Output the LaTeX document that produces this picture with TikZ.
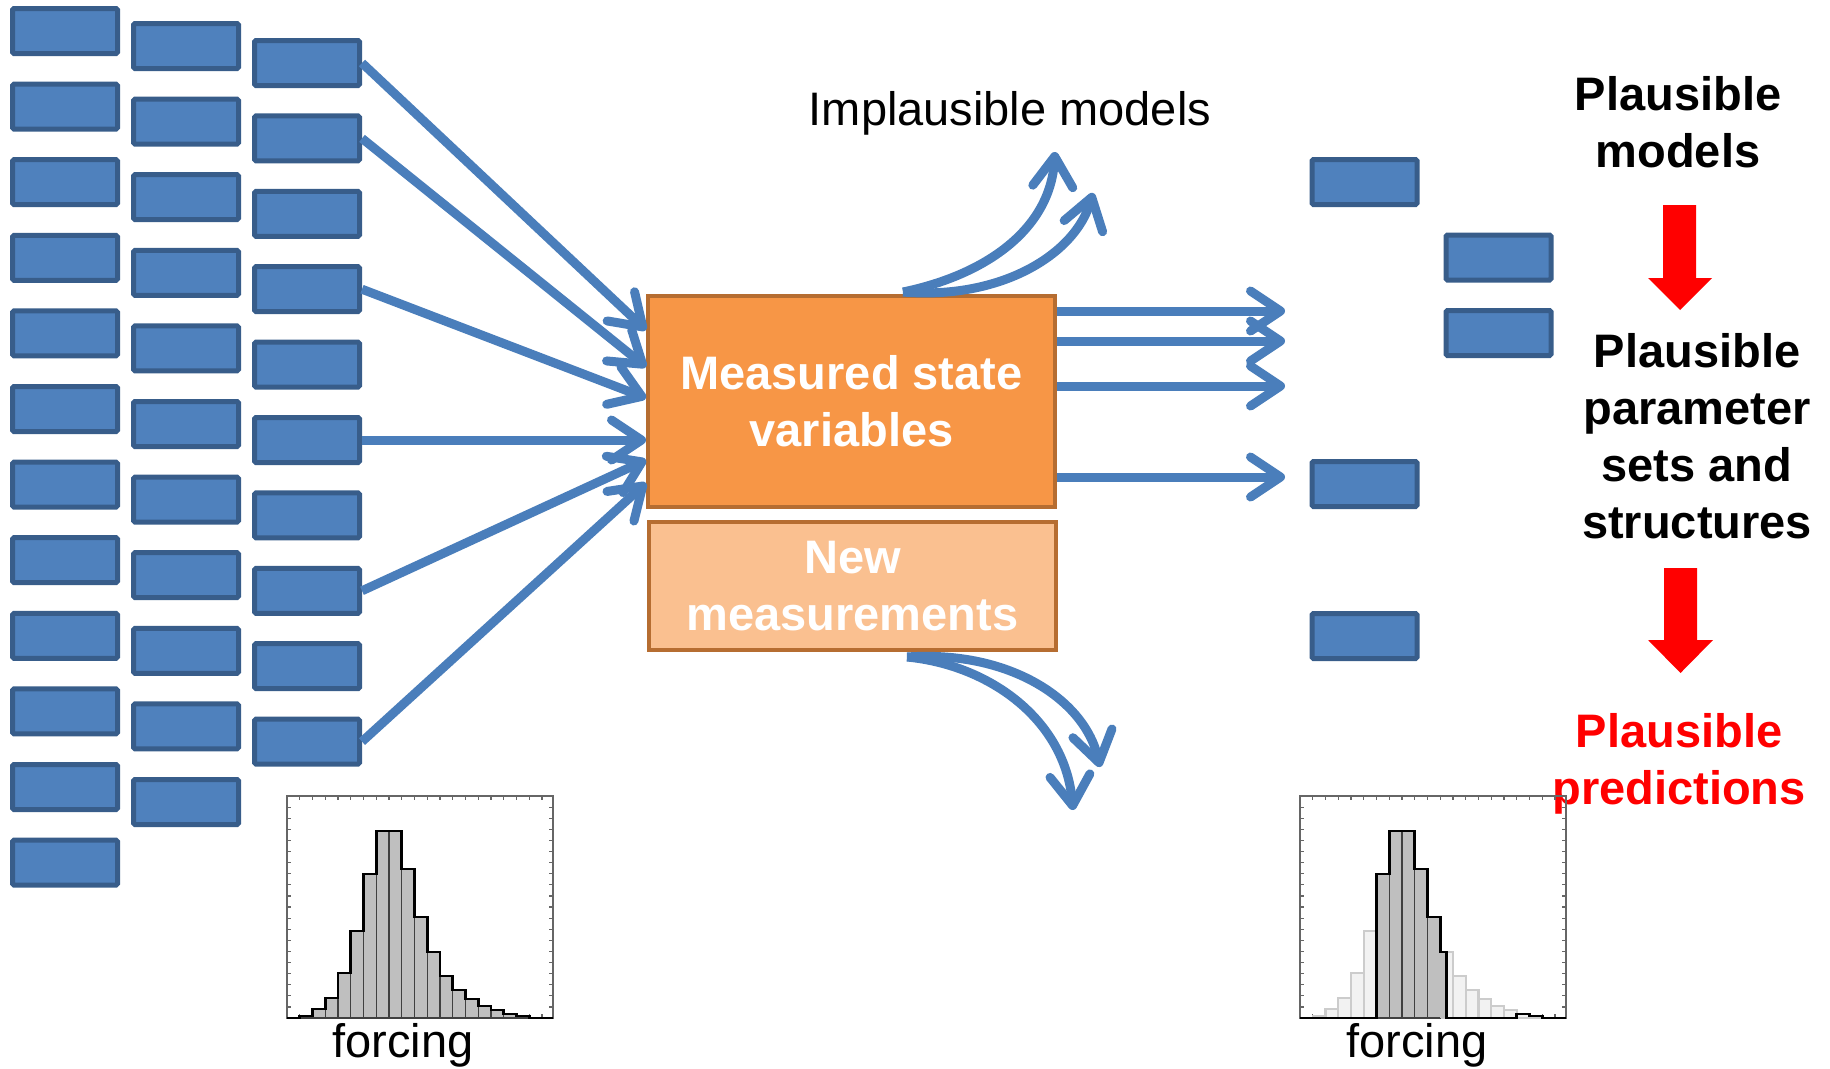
\documentclass[tikz,border=0pt]{standalone}
\usepackage{fontspec}
\setmainfont{Liberation Sans}
\usetikzlibrary{arrows.meta,calc}
\definecolor{bfill}{HTML}{4F81BD}
\definecolor{bline}{HTML}{385D8A}
\definecolor{arrc}{HTML}{4A7EBB}
\definecolor{ofill}{HTML}{F79646}
\definecolor{oline}{HTML}{B66D31}
\definecolor{lofill}{HTML}{FAC090}
\newcommand{\histframe}{%
  \draw[black!60, line width=1.5pt] (0,0) rectangle (266,222);
  \foreach \t in {1,...,20} {
    \draw[black!60, line width=1.2pt] ({12.75*\t},0) -- ++(0,4);
    \draw[black!60, line width=1.2pt] ({12.75*\t},222) -- ++(0,-4);
  }
  \foreach \t in {1,...,19} {
    \draw[black!60, line width=1.2pt] (0,{11.1*\t}) -- ++(4,0);
    \draw[black!60, line width=1.2pt] (266,{11.1*\t}) -- ++(-4,0);
  }
}
\begin{document}
\begin{tikzpicture}[x=1pt,y=-1pt,
  mbox/.style={draw=bline, fill=bfill, line width=5pt, minimum width=105pt, minimum height=45pt, inner sep=0pt, rounded corners=1.5pt},
  conn/.style={draw=arrc, line width=9pt, -{Straight Barb[length=30pt, width=40pt, line width=9pt, round]}},
  boxtext/.style={text=white, font=\bfseries\fontsize{47}{57}\selectfont, align=center, inner sep=0pt},
  sidetext/.style={font=\bfseries\fontsize{47}{57}\selectfont, align=center, inner sep=0pt},
  plain/.style={font=\fontsize{47}{56}\selectfont, inner sep=0pt}
]
\useasboundingbox (0,0) rectangle (1830,1068);

% model columns
\foreach \i in {0,...,11} \node[mbox] (a\i) at (65,{31+75.6*\i}) {};
\foreach \i in {0,...,10} \node[mbox] (b\i) at (186,{46+75.6*\i}) {};
\foreach \i in {0,...,9} \node[mbox] (c\i) at (307,{63+75.4*\i}) {};

% central boxes
\node[boxtext, draw=oline, fill=ofill, line width=4pt, minimum width=407pt, minimum height=211pt] (ms) at (851.5,401.5) {Measured state\\variables};
\node[boxtext, draw=oline, fill=lofill, line width=4pt, minimum width=407pt, minimum height=128pt] (nm) at (852.5,586) {New\\measurements};

% arrows into box
\draw[conn] (c0.east) -- ([yshift=-36pt]ms.north west);
\draw[conn] (c1.east) -- ([yshift=-73pt]ms.north west);
\draw[conn] (c3.east) -- ([yshift=-104pt]ms.north west);
\draw[conn] (c5.east) -- (ms.west |- c5.east);
\draw[conn] (c7.east) -- ([yshift=-166pt]ms.north west);
\draw[conn] (c9.east) -- ([yshift=-189pt]ms.north west);

% arrows out of box
\coordinate (r1) at (1285,311);
\coordinate (r2) at (1285,341);
\coordinate (r3) at (1285,386);
\coordinate (r4) at (1285,477);
\draw[conn] (ms.east |- r1) -- (r1);
\draw[conn] (ms.east |- r2) -- (r2);
\draw[conn] (ms.east |- r3) -- (r3);
\draw[conn] (ms.east |- r4) -- (r4);

% implausible (up)
\coordinate (us) at ([xshift=51.5pt,yshift=2pt]ms.north);
\coordinate (u1) at (1055,152);
\coordinate (u2) at (1093,193);
\draw[conn] (us) .. controls (985,275) and (1050,230) .. (u1);
\draw[conn] (us) .. controls (1000,300) and (1075,255) .. (u2);
\node[plain, anchor=base] (im) at (1010,125) {Implausible models};

% down arrows
\coordinate (ds) at ([xshift=54.5pt,yshift=-5pt]nm.south);
\coordinate (d1) at (1100,767);
\coordinate (d2) at (1073,810);
\draw[conn] (ds) .. controls (1010,650) and (1085,700) .. (d1);
\draw[conn] (ds) .. controls (990,665) and (1065,720) .. (d2);

% plausible models boxes
\node[mbox] (p1) at (1364.5,182) {};
\node[mbox] (p2) at (1498.5,257.5) {};
\node[mbox] (p3) at (1498.5,333) {};
\node[mbox] (p4) at (1364.5,484) {};
\node[mbox] (p5) at (1364.5,636) {};

% right texts
\node[sidetext] (pm) at (1678,122.5) {Plausible\\models};
\node[sidetext] (pp) at (1697,436) {Plausible\\parameter\\sets and\\structures};
\node[sidetext, text=red] (pr) at (1679,764) {Plausible\\predictions};

% red block arrows
\fill[red] (1663,205) -- (1696,205) -- (1696,278) -- (1712,278) -- (1680,310) -- (1648,278) -- (1663,278) -- cycle;
\fill[red] (1664,568) -- (1697,568) -- (1697,640) -- (1713,640) -- (1680.5,673) -- (1648,640) -- (1664,640) -- cycle;

% left histogram
\begin{scope}[shift={(287,796)}]
  \histframe
  \foreach \k/\h in {1/2,2/9,3/20,4/45,5/87,6/144,7/187,8/187,9/149,10/101,11/66,12/42,13/28,14/19,15/12,16/8,17/4,18/2}
    \filldraw[fill=black!25, draw=black!75, line width=1.2pt] ({12.75*\k},222) rectangle ({12.75*(\k+1)},{222-\h});
  \draw[line width=2.8pt, line join=miter] (0,222) -- (12.75,222)
    foreach \k/\h in {1/2,2/9,3/20,4/45,5/87,6/144,7/187,8/187,9/149,10/101,11/66,12/42,13/28,14/19,15/12,16/8,17/4,18/2}
    { -- ({12.75*\k},{222-\h}) -- ({12.75*(\k+1)},{222-\h}) } -- (242.25,222) -- (266,222);
\end{scope}
\node[plain, anchor=base] (f1) at (403,1057) {forcing};

% right histogram
\begin{scope}[shift={(1300,796)}]
  \histframe
  \foreach \k/\h in {1/2,2/9,3/20,4/45,5/87,6/144,7/187,8/187,9/149,10/101,11/66,12/42,13/28,14/19,15/12,16/8,17/4,18/2}
    \filldraw[fill=black!5, draw=black!20, line width=2.2pt] ({12.75*\k},222) rectangle ({12.75*(\k+1)},{222-\h});
  \foreach \k/\h in {6/144,7/187,8/187,9/149,10/101}
    \filldraw[fill=black!25, draw=black!75, line width=1.2pt] ({12.75*\k},222) rectangle ({12.75*(\k+1)},{222-\h});
  \fill[black!25] (140.25,222) rectangle (146.6,156);
  \draw[line width=2.8pt, line join=miter] (0,222) -- (76.5,222)
    foreach \k/\h in {6/144,7/187,8/187,9/149,10/101}
    { -- ({12.75*\k},{222-\h}) -- ({12.75*(\k+1)},{222-\h}) }
    -- (140.25,156) -- (146.6,156) -- (146.6,222) -- (216.75,222) -- (216.75,218) -- (229.5,218) -- (229.5,220) -- (242.25,220) -- (242.25,222) -- (266,222);
\end{scope}
\node[plain, anchor=base] (f2) at (1417,1057) {forcing};
\end{tikzpicture}
\end{document}
